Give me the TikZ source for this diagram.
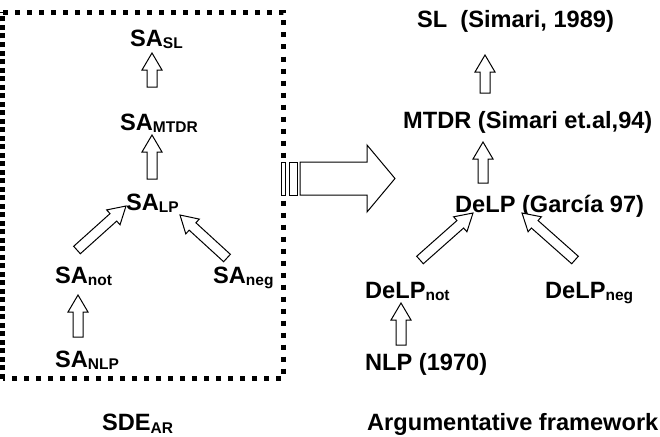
\documentclass[tikz,border=0pt]{standalone}
\usepackage{fontspec}
\setmainfont{Liberation Sans}
\usetikzlibrary{calc}
\newcommand\sbs[1]{\raisebox{-2.5pt}{\fontsize{15.5}{16}\selectfont #1}}
\tikzset{
  lbl/.style={anchor=base west, inner sep=0pt, font=\fontsize{23.6}{26}\selectfont\bfseries},
  blk/.style={draw=black, line width=1pt, fill=white, line join=miter},
  dotbox/.style={line width=5pt, dash pattern=on 5pt off 7pt},
  dotboxl/.style={line width=5pt, dash pattern=on 5pt off 3.5pt}
}
\newcommand\blockarrow[2]{%
  \coordinate (hb) at ($(#2)!17pt!(#1)$);
  \draw[blk] ($(#1)!5pt!90:(#2)$) -- ($(hb)!5pt!90:(#2)$) -- ($(hb)!10pt!90:(#2)$) -- (#2)
    -- ($(hb)!10pt!-90:(#2)$) -- ($(hb)!5pt!-90:(#2)$) -- ($(#1)!5pt!-90:(#2)$) -- cycle;}
\begin{document}
\begin{tikzpicture}[x=1pt,y=-1pt]
\useasboundingbox[fill=white] (0,0) rectangle (660,436);

% dotted frame
\draw[dotbox] (3,12.5) -- (283,12.5) -- (283,378.5) -- (3,378.5);
\draw[dotboxl] (2.5,378.5) -- (2.5,12.5);

% left labels
\node[lbl] (saSL)   at (130,46)  {SA\sbs{SL}};
\node[lbl] (saMTDR) at (120,130) {SA\sbs{MTDR}};
\node[lbl] (saLP)   at (126,210) {SA\sbs{LP}};
\node[lbl] (saNot)  at (55,283)  {SA\sbs{not}};
\node[lbl] (saNeg)  at (213,283) {SA\sbs{neg}};
\node[lbl] (saNLP)  at (55,367)  {SA\sbs{NLP}};
\node[lbl] (sde)    at (102,430.5) {SDE\sbs{AR}};

% right labels
\node[lbl] (sl)     at (417,28)  {SL\ \ (Simari, 1989)};
\node[lbl] (mtdr)   at (403,128) {MTDR (Simari et.al,94)};
\node[lbl] (delp)   at (455,212) {DeLP (García 97)};
\node[lbl] (delpNot) at (365,298) {DeLP\sbs{not}};
\node[lbl] (delpNeg) at (545,298) {DeLP\sbs{neg}};
\node[lbl] (nlp)    at (365,370) {NLP (1970)};
\node[lbl] (argf)   at (367,430.5) {Argumentative framework};

% arrow end points
\coordinate (a1t) at (152,87);  \coordinate (a1h) at (152,53);
\coordinate (a2t) at (152,179); \coordinate (a2h) at (152,135);
\coordinate (a3t) at (77,250);  \coordinate (a3h) at (126,206);
\coordinate (a4t) at (227,258); \coordinate (a4h) at (180,215);
\coordinate (a5t) at (78,337);  \coordinate (a5h) at (78,295);
\coordinate (b1t) at (485,93);  \coordinate (b1h) at (485,55);
\coordinate (b2t) at (483,183); \coordinate (b2h) at (483,142);
\coordinate (b3t) at (420,260); \coordinate (b3h) at (473,213);
\coordinate (b4t) at (575,260); \coordinate (b4h) at (522,213);
\coordinate (b5t) at (401,345); \coordinate (b5h) at (401,303);

\blockarrow{a1t}{a1h}
\blockarrow{a2t}{a2h}
\blockarrow{a3t}{a3h}
\blockarrow{a4t}{a4h}
\blockarrow{a5t}{a5h}
\blockarrow{b1t}{b1h}
\blockarrow{b2t}{b2h}
\blockarrow{b3t}{b3h}
\blockarrow{b4t}{b4h}
\blockarrow{b5t}{b5h}

% big striped arrow between the two frameworks
\draw[blk] (281.5,162) rectangle (285,195);
\draw[blk] (289,162) rectangle (297,195);
\draw[blk] (300,162) -- (367,162) -- (367,145) -- (395,178.5) -- (367,212) -- (367,195) -- (300,195) -- cycle;
\end{tikzpicture}
\end{document}
